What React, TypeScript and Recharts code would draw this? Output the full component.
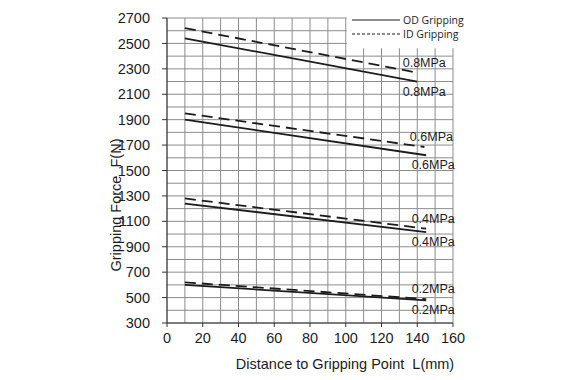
import React from "react";
import {
  LineChart,
  Line,
  XAxis,
  YAxis,
  CartesianGrid,
  ReferenceArea,
  LabelList,
} from "recharts";

// distance L (mm) / force F (N)
const od08 = [{ L: 10, F: 2540 }, { L: 140, F: 2200 }];
const id08 = [{ L: 10, F: 2620 }, { L: 140, F: 2270 }];
const od06 = [{ L: 10, F: 1900 }, { L: 145, F: 1620 }];
const id06 = [{ L: 10, F: 1950 }, { L: 144, F: 1685 }];
const od04 = [{ L: 10, F: 1240 }, { L: 145, F: 1015 }];
const id04 = [{ L: 10, F: 1280 }, { L: 145, F: 1042 }];
const od02 = [{ L: 10, F: 600 }, { L: 145, F: 478 }];
const id02 = [{ L: 10, F: 620 }, { L: 145, F: 488 }];

const xTicks = [0, 20, 40, 60, 80, 100, 120, 140, 160];
const yTicks = [300, 500, 700, 900, 1100, 1300, 1500, 1700, 1900, 2100, 2300, 2500, 2700];
const xGrid = Array.from({ length: 17 }, (_, i) => i * 10);
const yGrid = Array.from({ length: 25 }, (_, i) => 300 + i * 100);

const font = "'Liberation Sans', Arial, sans-serif";
const ink = "#1c1c1c";

// label only at the last point, above (ID) or below (OD)
const endLabel = (text: string, dy: number, n: number) => (props: any) => {
  if (props.index !== n - 1) return null;
  return (
    <text
      x={props.x + 7}
      y={props.y + dy}
      textAnchor="middle"
      dominantBaseline="central"
      fontSize={12.5}
      fontFamily={font}
      fill={ink}
    >
      {text}
    </text>
  );
};

const series = [
  { data: od08, dashed: false, text: "0.8MPa" },
  { data: id08, dashed: true, text: "0.8MPa" },
  { data: od06, dashed: false, text: "0.6MPa" },
  { data: id06, dashed: true, text: "0.6MPa" },
  { data: od04, dashed: false, text: "0.4MPa" },
  { data: id04, dashed: true, text: "0.4MPa" },
  { data: od02, dashed: false, text: "0.2MPa" },
  { data: id02, dashed: true, text: "0.2MPa" },
];

export default function App() {
  return (
    <div style={{ position: "fixed", left: 0, top: 0, width: 575, height: 380, background: "#fff" }}>
      <LineChart
        width={575}
        height={380}
        margin={{ top: 18, right: 122, bottom: 27, left: 107 }}
      >
        <CartesianGrid
          stroke="#8c8c8c"
          strokeWidth={1}
          horizontalValues={yGrid}
          verticalValues={xGrid}
        />
        <ReferenceArea
          x1={100.6}
          x2={166}
          y1={2462}
          y2={2760}
          fill="#fff"
          fillOpacity={1}
          stroke="none"
          ifOverflow="visible"
        />
        <XAxis
          dataKey="L"
          type="number"
          domain={[0, 160]}
          ticks={xTicks}
          interval={0}
          height={30}
          tickSize={4}
          tickMargin={6}
          stroke="#333"
          tick={{ fill: ink, fontSize: 14.5, fontFamily: font }}
          allowDuplicatedCategory={false}
          label={() => (
            <text
              x={345}
              y={364}
              textAnchor="middle"
              dominantBaseline="central"
              fontSize={14.5}
              fontFamily={font}
              fill={ink}
            >
              Distance to Gripping Point{"\u00a0\u00a0"}L(mm)
            </text>
          )}
        />
        <YAxis
          dataKey="F"
          type="number"
          domain={[300, 2700]}
          ticks={yTicks}
          interval={0}
          width={60}
          tickSize={5}
          tickMargin={12}
          stroke="#333"
          tick={{ fill: ink, fontSize: 14.5, fontFamily: font }}
          label={() => (
            <text
              x={116}
              y={205}
              transform="rotate(-90, 116, 205)"
              textAnchor="middle"
              dominantBaseline="central"
              fontSize={14.5}
              fontFamily={font}
              fill={ink}
            >
              Gripping Force{"\u00a0\u00a0"}F(N)
            </text>
          )}
        />
        {series.map((s, i) => (
          <Line
            key={i}
            data={s.data}
            dataKey="F"
            type="linear"
            stroke={ink}
            strokeWidth={1.8}
            strokeDasharray={s.dashed ? "11 6" : undefined}
            dot={false}
            activeDot={false}
            isAnimationActive={false}
          >
            <LabelList
              dataKey="F"
              content={endLabel(s.text, s.dashed ? -10 : 10, s.data.length)}
            />
          </Line>
        ))}
      </LineChart>
      <svg
        width={130}
        height={45}
        style={{ position: "absolute", left: 345, top: 5 }}
      >
        <line x1={7} y1={15} x2={55} y2={15} stroke={ink} strokeWidth={1.2} />
        <line x1={7} y1={29} x2={55} y2={29} stroke={ink} strokeWidth={1.2} strokeDasharray="3 2" />
        <text x={58} y={15} dominantBaseline="central" fontSize={10.5} fontFamily="'Open Sans', sans-serif" fill={ink}>
          OD Gripping
        </text>
        <text x={58} y={29} dominantBaseline="central" fontSize={10.5} fontFamily="'Open Sans', sans-serif" fill={ink}>
          ID Gripping
        </text>
      </svg>
    </div>
  );
}
